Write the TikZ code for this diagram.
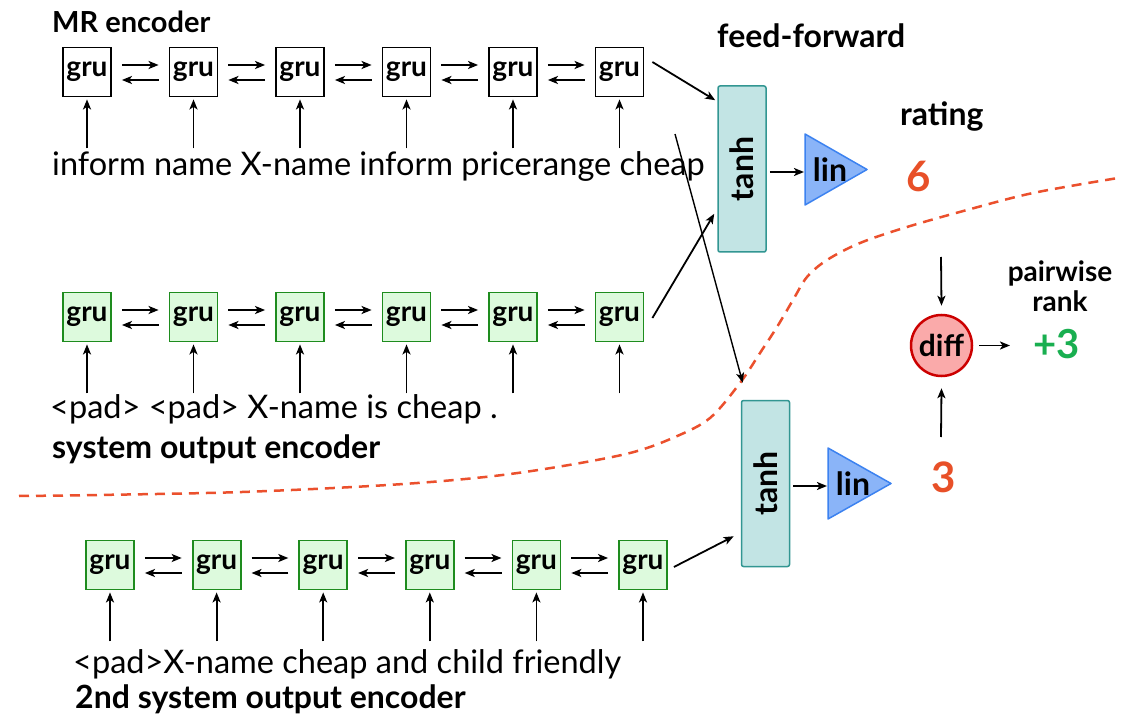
\documentclass[tikz,border=0pt]{standalone}
\usepackage{fontspec}
\setmainfont{Lato}
\usetikzlibrary{arrows.meta,calc}
\definecolor{grnfill}{RGB}{221,250,221}
\definecolor{grndraw}{RGB}{30,140,30}
\definecolor{tanhfill}{RGB}{194,228,228}
\definecolor{tanhdraw}{RGB}{50,150,146}
\definecolor{linfill}{RGB}{138,180,248}
\definecolor{lindraw}{RGB}{60,130,240}
\definecolor{difffill}{RGB}{250,170,170}
\definecolor{diffdraw}{RGB}{204,0,0}
\definecolor{orng}{RGB}{232,80,40}
\definecolor{grn}{RGB}{25,175,80}
\definecolor{dashc}{RGB}{235,80,45}
\begin{document}
\begin{tikzpicture}[x=1pt,y=-1pt,
  arr/.style={-{Stealth[length=10pt,width=8pt,inset=2.5pt]}, line width=1.8pt},
  thinarr/.style={arr, line width=1.4pt},
  grubox/.style={draw=black, line width=1.8pt, fill=white, minimum width=48pt, minimum height=49pt, inner sep=0pt, font=\fontsize{28}{32}\selectfont\bfseries},
  grugreen/.style={grubox, draw=grndraw, fill=grnfill},
  wordtext/.style={anchor=base west, inner sep=0pt, font=\fontsize{32.5}{38}\selectfont},
  title/.style={anchor=base west, inner sep=0pt, font=\fontsize{32}{38}\selectfont\bfseries},
  tanhbox/.style={draw=tanhdraw, fill=tanhfill, line width=1.5pt, rounded corners=2pt, minimum width=48pt, minimum height=166pt, inner sep=0pt, font=\fontsize{32}{36}\selectfont\bfseries},
  lintri/.style={draw=lindraw, fill=linfill, line width=1.5pt, line join=round},
  lintext/.style={inner sep=0pt, font=\fontsize{32}{36}\selectfont\bfseries},
  diffnode/.style={circle, draw=diffdraw, fill=difffill, line width=2.5pt, minimum size=61pt, inner sep=0pt, font=\fontsize{30}{34}\selectfont\bfseries},
  bignum/.style={anchor=base, inner sep=0pt, font=\fontsize{42}{48}\selectfont\bfseries, text=orng},
]
\useasboundingbox (0,0) rectangle (1141,714);
\fill[white] (0,0) rectangle (1141,714);

% dashed separator
\draw[dashc, line width=2.5pt, dash pattern=on 10pt off 7pt] plot[smooth, tension=0.55] coordinates {(19,496) (97,495) (242,492) (388,485) (485,477) (557,467) (630,453) (675,437) (710,418) (740,383) (760,353) (777,327) (793,300) (807,277) (827,260) (860,243) (907,227) (967,210) (1033,193) (1118,178)};

% rows of gru cells
\foreach \i in {1,...,6} {
  \node[grubox]   (a\i) at ({87+106.5*(\i-1)},72) {gru};
  \node[grugreen] (b\i) at ({87+106.5*(\i-1)},317) {gru};
  \node[grugreen] (c\i) at ({110+106.6*(\i-1)},565) {gru};
  \coordinate (ia\i) at ($(a\i.south)+(0,51)$);
  \coordinate (ib\i) at ($(b\i.south)+(0,51)$);
  \coordinate (ic\i) at ($(c\i.south)+(0,51)$);
  \draw[arr] (ia\i) -- ([yshift=-2pt]a\i.south);
  \draw[arr] (ib\i) -- ([yshift=-2pt]b\i.south);
  \draw[arr] (ic\i) -- ([yshift=-2pt]c\i.south);
}
\foreach \i/\j in {1/2,2/3,3/4,4/5,5/6} {
  \foreach \r in {a,b,c} {
    \draw[arr] ([xshift=10pt,yshift=7pt]\r\i.east) -- ([xshift=-10pt,yshift=7pt]\r\j.west);
    \draw[arr] ([xshift=-10pt,yshift=-8pt]\r\j.west) -- ([xshift=10pt,yshift=-8pt]\r\i.east);
  }
}

% texts
\node[title, font=\fontsize{29}{34}\selectfont\bfseries] (mrt) at (52,33) {MR encoder};
\node[wordtext] (w1) at (52,176) {inform name X-name inform pricerange cheap};
\node[wordtext] (w2) at (50,418) {<pad> <pad> X-name is cheap .};
\node[title] (sot) at (52,458) {system output encoder};
\node[wordtext] (w3) at (73,673) {<pad>X-name cheap and child friendly};
\node[title] (sot2) at (75,708) {2nd system output encoder};
\node[title] (fft) at (717,48) {feed-forward};
\node[title] (rat) at (900,126) {rating};

% feed-forward blocks
\node[tanhbox] (tanh1) at (742,169) {\rotatebox{90}{tanh}};
\node[tanhbox] (tanh2) at (765.5,483.5) {\rotatebox{90}{tanh}};

\draw[lintri] (805,134) -- (867,169.5) -- (805,205) -- cycle;
\node[lintext] (lin1) at (830,170) {lin};
\coordinate (lin1in) at (804,172);
\draw[lintri] (828,448) -- (891,483.5) -- (828,519) -- cycle;
\node[lintext] (lin2) at (853,484) {lin};
\coordinate (lin2in) at (827,486);

\draw[arr] ([xshift=3pt,yshift=-3pt]tanh1.east) -- (lin1in);
\draw[arr] ([xshift=3pt,yshift=-2.5pt]tanh2.east) -- (lin2in);

% encoder outputs to feed-forward
\draw[arr] ([xshift=8pt,yshift=10pt]a6.east) -- ([xshift=-2pt,yshift=-15pt]tanh1.north west);
\draw[arr] ([xshift=8pt,yshift=-1pt]b6.east) -- ([xshift=-3pt,yshift=39pt]tanh1.south west);
\coordinate (mrout) at (675,134);
\draw[thinarr] (mrout) -- ([xshift=2pt,yshift=17pt]tanh2.north west);
\draw[arr] ([xshift=6pt,yshift=-2pt]c6.east) -- ([xshift=-7pt,yshift=31pt]tanh2.south west);

% scores
\node[bignum] (six) at (919,192) {6};
\node[bignum] (three) at (944,492) {3};
\node[diffnode] (diff) at (941.5,345.5) {diff};
\coordinate (dtop) at (941,257);
\coordinate (dbot) at (941,437);
\draw[arr] (dtop) -- ([yshift=8pt]diff.north);
\draw[arr] (dbot) -- ([yshift=-11pt]diff.south);
\node[anchor=base west, inner sep=0pt, font=\fontsize{40}{44}\selectfont\bfseries, text=grn] (plus) at (1033,358) {+3};
\draw[arr] ([xshift=6pt]diff.east) -- ($(diff.east -| plus.west)+(-23,0)$);
\node[anchor=base, inner sep=0pt, font=\fontsize{28}{32}\selectfont\bfseries] (pw) at (1060,282) {pairwise};
\node[anchor=base, inner sep=0pt, font=\fontsize{28}{32}\selectfont\bfseries] (rk) at (1060,312) {rank};
\end{tikzpicture}
\end{document}
